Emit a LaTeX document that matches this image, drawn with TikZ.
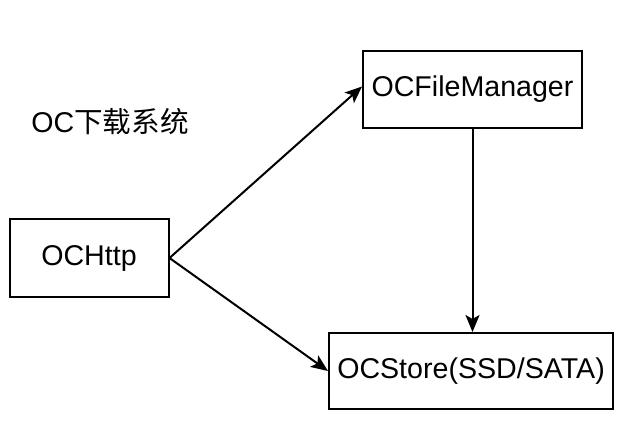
\documentclass[tikz,border=0pt]{standalone}
\usepackage{fontspec}
\setmainfont{Liberation Sans}
\newfontfamily\cjk{Noto Sans CJK SC}
\usetikzlibrary{positioning, arrows.meta}

\begin{document}
\begin{tikzpicture}[
		x=1pt, y=-1pt,
		box/.style={rectangle, draw, line width=2pt, inner sep=0pt},
		link/.style={line width=2pt, -{Stealth[length=17pt, width=14pt, inset=4pt]}},
		every node/.style={font=\fontsize{28.6}{34}\selectfont}]
		\useasboundingbox (0,0) rectangle (628,426);
		\node (title) at (110,122) {OC{\cjk 下载系统}};
		\node[box, minimum width=159pt, minimum height=78pt] (http) at (89,258) {OCHttp};
		\node[box, minimum width=219pt, minimum height=77pt] (fm) at (472.5,89.5) {OCFileManager};
		\node[box, minimum width=284pt, minimum height=76pt] (store) at (471,371) {OCStore(SSD/SATA)};
		\draw[link] (http.east) -- ([yshift=3pt]fm.west);
		\draw[link] (http.east) -- (store.west);
		\draw[link] (fm.south) -- (fm.south |- store.north);
	\end{tikzpicture}
\end{document}
